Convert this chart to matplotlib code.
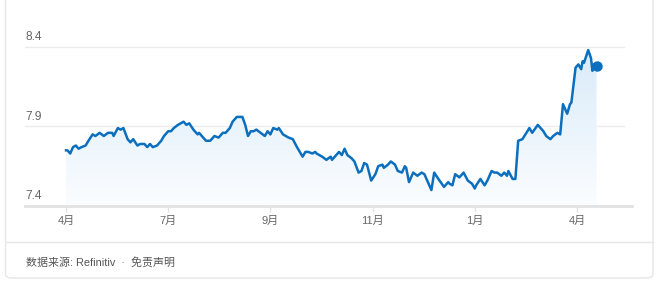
import numpy as np
import matplotlib.pyplot as plt
from matplotlib.patches import FancyBboxPatch, PathPatch
from matplotlib.path import Path
from matplotlib.colors import LinearSegmentedColormap

plt.rcParams['font.family'] = ['Liberation Sans', 'Noto Sans CJK SC', 'DejaVu Sans']

# days since start of window, and the rate
day = [0, 1, 3, 5, 7, 9, 11, 14, 16, 19, 21, 24, 27, 30, 33, 34, 37, 39, 41, 44,
       46, 48, 51, 53, 56, 58, 60, 62, 65, 68, 70, 73, 75, 77, 80, 84, 86, 88, 91, 94,
       95, 98, 100, 103, 106, 109, 112, 114, 117, 119, 122, 124, 126, 128, 130, 132, 134, 136, 139, 142,
       144, 146, 148, 151, 152, 155, 157, 159, 162, 165, 169, 171, 173, 176, 178, 179, 183, 186, 189, 190,
       192, 195, 197, 199, 201, 204, 206, 209, 211, 213, 215, 218, 221, 223, 226, 227, 230, 232, 235, 237,
       240, 242, 243, 245, 248, 251, 254, 256, 258, 261, 263, 266, 270, 273, 274, 276, 278, 281, 284, 287,
       290, 292, 293, 296, 299, 301, 304, 306, 308, 311, 313, 315, 316, 319, 321, 323, 326, 331, 333, 337,
       341, 343, 346, 348, 351, 353, 355, 358, 360, 361, 364, 366, 368, 369, 370, 373, 375, 376, 377, 379]
rate = [7.75, 7.75, 7.73, 7.77, 7.78, 7.76, 7.77, 7.78, 7.81, 7.85, 7.84, 7.86, 7.84, 7.86, 7.86, 7.84, 7.89, 7.88, 7.89, 7.82,
        7.80, 7.82, 7.78, 7.79, 7.79, 7.77, 7.79, 7.77, 7.78, 7.81, 7.84, 7.87, 7.87, 7.89, 7.91, 7.93, 7.91, 7.92, 7.88, 7.85,
        7.86, 7.83, 7.81, 7.81, 7.84, 7.83, 7.86, 7.86, 7.89, 7.93, 7.96, 7.96, 7.96, 7.91, 7.84, 7.87, 7.87, 7.88, 7.86, 7.84,
        7.87, 7.85, 7.89, 7.88, 7.89, 7.85, 7.84, 7.83, 7.82, 7.77, 7.71, 7.74, 7.74, 7.73, 7.74, 7.73, 7.71, 7.69, 7.71, 7.69,
        7.71, 7.74, 7.72, 7.76, 7.72, 7.70, 7.68, 7.61, 7.62, 7.67, 7.66, 7.56, 7.60, 7.65, 7.66, 7.64, 7.66, 7.68, 7.66, 7.62,
        7.61, 7.65, 7.64, 7.55, 7.61, 7.59, 7.61, 7.60, 7.56, 7.50, 7.61, 7.57, 7.52, 7.55, 7.54, 7.53, 7.60, 7.58, 7.61, 7.56,
        7.54, 7.51, 7.53, 7.57, 7.53, 7.56, 7.62, 7.61, 7.61, 7.59, 7.61, 7.59, 7.62, 7.57, 7.57, 7.81, 7.82, 7.89, 7.86, 7.91,
        7.87, 7.84, 7.82, 7.84, 7.86, 7.85, 8.04, 7.98, 8.04, 8.05, 8.27, 8.29, 8.26, 8.31, 8.30, 8.38, 8.33, 8.25, 8.29, 8.28]

tick_days = [0, 73, 146, 219, 292, 365]
tick_labels = ['4月', '7月', '9月', '11月', '1月', '4月']
y_ticks = [7.4, 7.9, 8.4]

blue = '#0b6fbe'
W, H = 657, 287
fig = plt.figure(figsize=(W / 100, H / 100), dpi=100)

# card outline
card = FancyBboxPatch((5.5 / W, 9 / H), 647.5 / W, 300 / H,
                      boxstyle='round,pad=0,rounding_size=0.012', transform=fig.transFigure,
                      fc='white', ec='#e6e6e6', lw=1.0, zorder=-5)
fig.patches.append(card)
fig.add_artist(plt.Line2D([5.5 / W, 653 / W], [(287 - 242) / H] * 2, color='#e6e6e6', lw=1.0))
fig.text(26 / W, (287 - 262) / H, '数据来源: Refinitiv  ·  免责声明', fontsize=7.9, color='#555555',
         va='center', ha='left')

ax = fig.add_axes([25 / W, (287 - 206) / H, (632 - 25) / W, (206 - 30) / H], zorder=2)
ax.set_facecolor('none')

for v in y_ticks[1:]:
    ax.axhline(v, xmin=0, xmax=(624 - 25) / (632 - 25), color='#ececec', lw=1.0, zorder=0)
for v in y_ticks:
    ax.text(0, v + 0.022, f'{v:.1f}', transform=ax.get_yaxis_transform(), fontsize=8.6,
            color='#666666', ha='left', va='bottom')

# gradient fill under the line
x = np.array(day, dtype=float)
y = np.array(rate)
verts = [(x[0], 7.4)] + list(zip(x, y)) + [(x[-1], 7.4), (x[0], 7.4)]
clip = PathPatch(Path(verts), transform=ax.transData, fc='none', ec='none')
ax.add_patch(clip)
grad = np.linspace(0, 1, 256).reshape(-1, 1)
cmap = LinearSegmentedColormap.from_list('g', ['#fbfdff', '#d9ebf9'])
im = ax.imshow(grad, extent=[x[0], x[-1], 7.4, max(rate)], origin='lower', aspect='auto',
               cmap=cmap, zorder=1)
im.set_clip_path(clip)

ax.plot(x, y, color=blue, lw=1.8, zorder=3, solid_joinstyle='round')
ax.plot(x[-1], y[-1], 'o', color=blue, ms=6.5, zorder=4)

ax.set_xlim(-29.3, 404.3)
ax.set_ylim(7.4, 8.4 + 17 / 160)

for s in ['top', 'right', 'left']:
    ax.spines[s].set_visible(False)
ax.spines['bottom'].set_color('#e2e2e2')
ax.spines['bottom'].set_linewidth(2)
ax.set_yticks([])
ax.set_xticks(tick_days)
ax.set_xticklabels(tick_labels, fontsize=8, color='#666666')
ax.tick_params(axis='x', length=4, color='#e2e2e2', width=1, pad=3)

fig.savefig('out.png', dpi=100)
